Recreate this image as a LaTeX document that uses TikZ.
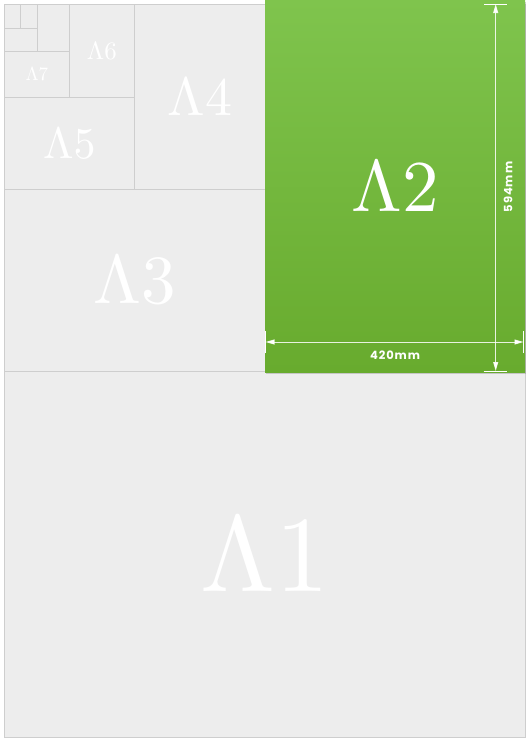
\documentclass[tikz,border=0pt]{standalone}
\usepackage[no-math]{fontspec}
\newfontfamily\dimfont[LetterSpace=8]{Poppins}
\DeclareFontShape{OT1}{cmr}{m}{n}{<->cmr10}{}
\usetikzlibrary{arrows.meta,shadows}
\definecolor{paper}{RGB}{237,237,237}
\definecolor{rulegray}{RGB}{206,206,206}
\definecolor{greentop}{RGB}{127,196,77}
\definecolor{greenbot}{RGB}{104,171,46}
\tikzset{
  sheet/.style={draw=rulegray, line width=0.8pt, inner sep=0pt, anchor=north west, text=white},
  tickline/.style={draw=white, line width=1pt},
  dimline/.style={draw=white, draw opacity=0.85, line width=0.9pt,
    {Triangle[width=5pt,length=9pt]}-{Triangle[width=5pt,length=9pt]}},
  dimtext/.style={text=white, font=\dimfont\bfseries\fontsize{11.5}{11.5}\selectfont, inner sep=0pt}
}
\begin{document}
\begin{tikzpicture}[x=1pt,y=-1pt]
\useasboundingbox (0,0) rectangle (529,744);
% whole sheet (A0)
\node[sheet, fill=paper, minimum width=521pt, minimum height=733pt,
  drop shadow={opacity=0.18, shadow xshift=0pt, shadow yshift=-1pt}] (a0) at (4,4) {};
% subdivisions
\node[sheet, minimum width=521pt, minimum height=366pt, font=\fontsize{108}{108}\selectfont] (a1) at (4,371) {$\Lambda1$};
\node[sheet, minimum width=261pt, minimum height=182pt, font=\fontsize{69}{69}\selectfont] (a3) at (4,189) {$\Lambda3$};
\node[sheet, minimum width=131pt, minimum height=185pt, font=\fontsize{54}{54}\selectfont] (a4) at (134,4) {$\Lambda4$};
\node[sheet, minimum width=130pt, minimum height=92pt, font=\fontsize{44}{44}\selectfont] (a5) at (4,97) {$\Lambda5$};
\node[sheet, minimum width=65pt, minimum height=93pt, font=\fontsize{25}{25}\selectfont] (a6) at (69,4) {$\Lambda6$};
\node[sheet, minimum width=65pt, minimum height=46pt, font=\fontsize{19}{19}\selectfont] (a7) at (4,51) {$\Lambda7$};
\node[sheet, minimum width=32pt, minimum height=47pt] (a8) at (37,4) {};
\node[sheet, minimum width=33pt, minimum height=23pt] (a9) at (4,28) {};
\node[sheet, minimum width=17pt, minimum height=24pt] (a10) at (20,4) {};
\node[sheet, minimum width=16pt, minimum height=24pt] (a11) at (4,4) {};
% A2 green sheet
\node[anchor=north west, inner sep=0pt, minimum width=260pt, minimum height=372pt,
  top color=greentop, bottom color=greenbot, text=white,
  font=\fontsize{73}{73}\selectfont,
  drop shadow={opacity=0.35, shadow xshift=0.5pt, shadow yshift=-1.5pt}] (a2) at (265,0) {$\Lambda2$};
% dimension lines
\coordinate (vt) at (495.7,4);
\coordinate (vb) at (495.7,371);
\coordinate (hl) at (265.5,342);
\coordinate (hr) at (523.5,342);
\draw[tickline] ([xshift=-11.5pt]vt) -- ([xshift=11.5pt]vt);
\draw[tickline] ([xshift=-12pt]vb) -- ([xshift=11.5pt]vb);
\draw[tickline] ([yshift=-11pt]hl) -- ([yshift=11pt]hl);
\draw[tickline] ([yshift=-11pt]hr) -- ([yshift=11pt]hr);
\draw[dimline] (vt) -- (vb);
\draw[dimline] (hl) -- (hr);
\node[dimtext, rotate=90] (d594) at (508,187) {594mm};
\node[dimtext] (d420) at (395,355) {420mm};
\end{tikzpicture}
\end{document}
